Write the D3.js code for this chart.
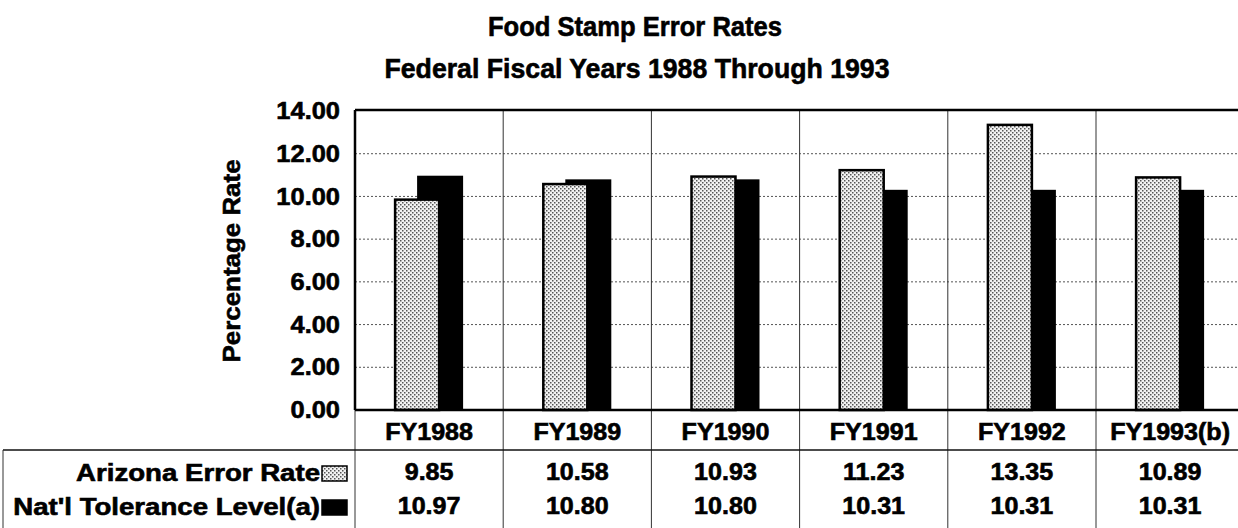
<!DOCTYPE html>
<html>
<head>
<meta charset="utf-8">
<script src="https://cdn.jsdelivr.net/npm/d3@7"></script>
<style>
  html, body { margin: 0; padding: 0; background: #fff; }
  svg { display: block; }
  text { font-family: "Liberation Sans", Arial, sans-serif; font-weight: bold; fill: #000; stroke: #000; stroke-width: 0.6px; }
</style>
</head>
<body>
<svg id="chart" width="1238" height="528"></svg>
<script>
// ---- data ----
const categories = ["FY1988", "FY1989", "FY1990", "FY1991", "FY1992", "FY1993(b)"];
const arizonaRate = [9.85, 10.58, 10.93, 11.23, 13.35, 10.89];
const nationalTolerance = [10.97, 10.80, 10.80, 10.31, 10.31, 10.31];
const seriesNames = ["Arizona Error Rate", "Nat'l Tolerance Level(a)"];
const yTickValues = [0, 2, 4, 6, 8, 10, 12, 14];
const titleLines = ["Food Stamp Error Rates", "Federal Fiscal Years 1988 Through 1993"];
const yAxisTitle = "Percentage Rate";

// ---- layout ----
const W = 1238, H = 528;
const plotLeft = 355, plotTop = 111, plotBottom = 410;
const bandW = 148.2;
const svg = d3.select("#chart");

const x = d3.scaleBand().domain(categories).range([plotLeft, plotLeft + bandW * categories.length]).padding(0);
const y = d3.scaleLinear().domain([0, 14]).range([plotBottom, plotTop]);

// pattern
const defs = svg.append("defs");
const pat = defs.append("pattern").attr("id", "stipple").attr("patternUnits", "userSpaceOnUse")
  .attr("width", 4).attr("height", 4);
pat.append("rect").attr("width", 4).attr("height", 4).attr("fill", "#f2f2f2");
pat.append("rect").attr("x", 0).attr("y", 0).attr("width", 1.5).attr("height", 1.5).attr("fill", "#555");
pat.append("rect").attr("x", 2).attr("y", 2).attr("width", 1.5).attr("height", 1.5).attr("fill", "#555");

function stretch(sel, k) {
  sel.each(function () {
    const len = this.getComputedTextLength();
    d3.select(this).attr("textLength", len * k).attr("lengthAdjust", "spacingAndGlyphs");
  });
}

// titles
svg.append("text").attr("x", 635).attr("y", 36).attr("text-anchor", "middle")
  .style("font-size", "28px").attr("textLength", 294).attr("lengthAdjust", "spacingAndGlyphs")
  .text(titleLines[0]);
svg.append("text").attr("x", 637).attr("y", 78).attr("text-anchor", "middle")
  .style("font-size", "28px").attr("textLength", 505).attr("lengthAdjust", "spacingAndGlyphs")
  .text(titleLines[1]);

// gridlines (dotted)
svg.append("g").selectAll("line").data(yTickValues.filter(d => d > 0 && d < 14)).join("line")
  .attr("x1", plotLeft).attr("x2", W).attr("y1", d => y(d)).attr("y2", d => y(d))
  .attr("stroke", "#555").attr("stroke-width", 1).attr("stroke-dasharray", "2,2");

// vertical dividers
const divX = categories.map(c => x(c)).concat([x.range()[1]]);
svg.append("g").selectAll("line").data(divX).join("line")
  .attr("x1", d => d).attr("x2", d => d).attr("y1", 110).attr("y2", H)
  .attr("stroke", "#333").attr("stroke-width", 1);

// top border
svg.append("line").attr("x1", plotLeft).attr("x2", W).attr("y1", 110).attr("y2", 110)
  .attr("stroke", "#000").attr("stroke-width", 2.5);
// y axis line
svg.append("line").attr("x1", plotLeft).attr("x2", plotLeft).attr("y1", 110).attr("y2", plotBottom)
  .attr("stroke", "#000").attr("stroke-width", 2.5);

// bars
const bw = x.bandwidth();
const blackW = 46, patW = 44;
const bars = svg.append("g");
bars.selectAll("rect.nat").data(categories).join("rect").attr("class", "nat")
  .attr("x", (c) => x(c) + bw / 2 - 12)
  .attr("width", blackW)
  .attr("y", (c, i) => y(nationalTolerance[i]))
  .attr("height", (c, i) => y(0) - y(nationalTolerance[i]))
  .attr("fill", "#000");
bars.selectAll("rect.az").data(categories).join("rect").attr("class", "az")
  .attr("x", (c) => x(c) + bw / 2 - 34)
  .attr("width", patW)
  .attr("y", (c, i) => y(arizonaRate[i]))
  .attr("height", (c, i) => y(0) - y(arizonaRate[i]))
  .attr("fill", "url(#stipple)").attr("stroke", "#000").attr("stroke-width", 2.5);

// zero line
svg.append("line").attr("x1", plotLeft).attr("x2", W).attr("y1", plotBottom).attr("y2", plotBottom)
  .attr("stroke", "#000").attr("stroke-width", 2.5);

// y axis labels
const yAxis = svg.append("g").attr("transform", `translate(${plotLeft},0)`)
  .call(d3.axisLeft(y).tickValues(yTickValues).tickFormat(d3.format(".2f")).tickSize(0).tickPadding(15));
yAxis.select(".domain").remove();
yAxis.selectAll("text").style("font-size", "24px").attr("font-family", null).attr("fill", "#000");
stretch(yAxis.selectAll("text"), 1.06);

// y title
const yt = svg.append("text").attr("transform", "translate(240,261) rotate(-90)")
  .attr("text-anchor", "middle").style("font-size", "24px").text(yAxisTitle);
stretch(yt, 1.08);

// category labels (x axis)
const xAxis = svg.append("g").attr("transform", `translate(0,${plotBottom})`)
  .call(d3.axisBottom(x).tickSize(0).tickPadding(14));
xAxis.select(".domain").remove();
xAxis.selectAll("text").style("font-size", "23px").attr("font-family", null).attr("fill", "#000")
  .attr("dy", null).attr("y", 30);
stretch(xAxis.selectAll("text"), 1.09);

// table lines
svg.append("line").attr("x1", 3).attr("x2", W).attr("y1", 450).attr("y2", 450)
  .attr("stroke", "#111").attr("stroke-width", 1.5);
svg.append("line").attr("x1", 3).attr("x2", 3).attr("y1", 450).attr("y2", H)
  .attr("stroke", "#333").attr("stroke-width", 1);

// table rows
const rows = [arizonaRate, nationalTolerance];
const rowBase = [480, 514];
rows.forEach((vals, r) => {
  const t = svg.append("g").selectAll("text").data(categories).join("text")
    .attr("x", c => x(c) + bw / 2).attr("y", rowBase[r]).attr("text-anchor", "middle")
    .style("font-size", "23px").text((c, i) => vals[i].toFixed(2));
  stretch(t, 1.09);
  const lab = svg.append("text").attr("x", 320).attr("y", rowBase[r] + 1).attr("text-anchor", "end")
    .style("font-size", "23px").text(seriesNames[r]);
  stretch(lab, 1.2);
  svg.append("rect").attr("x", 322).attr("y", rowBase[r] - 14).attr("width", 25).attr("height", 15)
    .attr("fill", r === 0 ? "url(#stipple)" : "#000")
    .attr("stroke", "#000").attr("stroke-width", 1.5);
});
</script>
</body>
</html>
